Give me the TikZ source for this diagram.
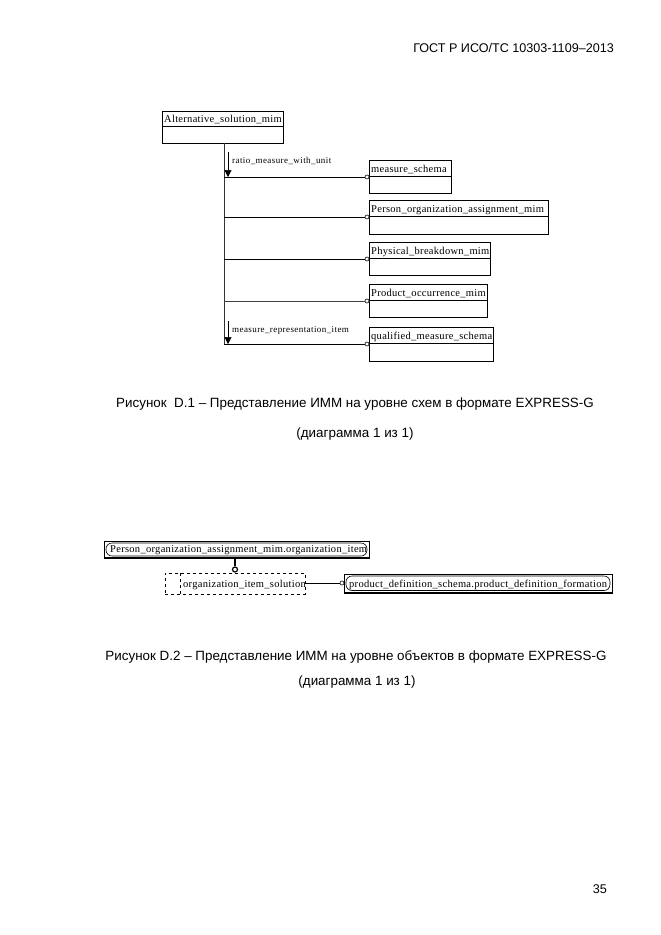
\documentclass[tikz,border=0pt]{standalone}
\usepackage{fontspec}
\setmainfont{Liberation Sans}
\newfontfamily\dgfont[LetterSpace=2.8]{Liberation Serif}
\newfontfamily\dgsmall[LetterSpace=4.6]{Liberation Serif}
\usetikzlibrary{arrows.meta,calc}
\begin{document}
\begin{tikzpicture}[x=1pt,y=-1pt,
  ent/.style={draw, line width=0.7pt, anchor=north west, minimum height=33pt, inner sep=0pt, outer sep=0pt},
  lbl/.style={font=\dgfont\fontsize{10.5}{12}\selectfont, anchor=base west, inner sep=0pt},
  rlbl/.style={font=\dgsmall\fontsize{9}{10}\selectfont, anchor=base west, inner sep=0pt},
  captxt/.style={font=\fontsize{13.4}{15}\selectfont, anchor=base, inner sep=0pt},
  hdrtxt/.style={font=\fontsize{12.6}{15}\selectfont, anchor=base east, inner sep=0pt},
  rel/.style={line width=0.9pt},
  ring/.style={circle, draw, line width=0.6pt, fill=white, minimum size=4pt, inner sep=0pt},
  dir/.style={line width=0.6pt, -{Triangle[length=7pt,width=7pt]}},
  sel/.style={draw, dashed, line width=0.7pt, anchor=north west, inner sep=0pt, outer sep=0pt, minimum height=21pt},
  tref/.style={draw, line width=0.7pt, anchor=north west, inner sep=0pt, outer sep=0pt, minimum height=17pt}
]
\useasboundingbox[fill=white] (0,0) rectangle (661,935);

% header and page number
\node[hdrtxt] (hdr) at (614,52) {ГОСТ Р ИСО/ТС 10303-1109–2013};
\node[hdrtxt] (pg) at (607,893) {35};

% ---------- Diagram D.1 ----------
\node[ent, minimum width=121pt, minimum height=32pt] (alt) at (162,111) {};
\draw[line width=0.7pt] (alt.west |- 0,126) -- (alt.east |- 0,126);
\node[lbl] (altl) at (164,122) {Alternative\_solution\_mim};

\node[ent, minimum width=82pt] (ms) at (369,160) {};
\draw[line width=0.7pt] (ms.west |- 0,176) -- (ms.east |- 0,176);
\node[lbl] (msl) at (371,172) {measure\_schema};

\node[ent, minimum width=179pt, minimum height=34pt] (poa) at (369,200) {};
\draw[line width=0.7pt] (poa.west |- 0,216) -- (poa.east |- 0,216);
\node[lbl] (poal) at (371,212) {Person\_organization\_assignment\_mim};

\node[ent, minimum width=121pt] (pb) at (369,242) {};
\draw[line width=0.7pt] (pb.west |- 0,258) -- (pb.east |- 0,258);
\node[lbl] (pbl) at (371,254) {Physical\_breakdown\_mim};

\node[ent, minimum width=118pt] (po) at (369,284) {};
\draw[line width=0.7pt] (po.west |- 0,300) -- (po.east |- 0,300);
\node[lbl] (pol) at (371,296) {Product\_occurrence\_mim};

\node[ent, minimum width=124pt, minimum height=34pt] (qms) at (369,327) {};
\draw[line width=0.7pt] (qms.west |- 0,343) -- (qms.east |- 0,343);
\node[lbl] (qmsl) at (371,339) {qualified\_measure\_schema};

% trunk
\coordinate (ttop) at (224,143);
\coordinate (tbot) at (224,345);
\draw[line width=0.7pt, black!80] (ttop) -- (tbot);

% connectors
\node[ring] (c1) at (367,177) {};
\node[ring] (c2) at (367,217) {};
\node[ring] (c3) at (367,259) {};
\node[ring] (c4) at (367,301) {};
\node[ring] (c5) at (367,344) {};
\coordinate (t1) at (224,177);
\coordinate (t2) at (224,217);
\coordinate (t3) at (224,259);
\coordinate (t4) at (224,301);
\coordinate (t5) at (224,344);
\draw[rel] (t1) -- (c1.west);
\draw[rel] (t2) -- (c2.west);
\draw[rel] (t3) -- (c3.west);
\draw[line width=0.5pt, black!75] (t4) -- (c4.west);
\draw[rel] (t5) -- (c5.west);

% direction arrows and labels
\coordinate (a1s) at (228,152);
\coordinate (a1e) at (228,177);
\draw[dir] (a1s) -- (a1e);
\node[rlbl] (r1) at (232,163) {ratio\_measure\_with\_unit};
\coordinate (a2s) at (228,321);
\coordinate (a2e) at (228,344);
\draw[dir] (a2s) -- (a2e);
\node[rlbl] (r2) at (232,332) {measure\_representation\_item};

\node[captxt] (cap1) at (355,407) {Рисунок\ \ D.1 – Представление ИММ на уровне схем в формате EXPRESS-G};
\node[captxt] (cap1b) at (355,437) {(диаграмма 1 из 1)};

% ---------- Diagram D.2 ----------
\node[tref, minimum width=265pt] (oi) at (104,541) {};
\draw[rounded corners=6pt, line width=0.6pt] (106,543) rectangle (367,556);
\draw[line width=1.4pt] (oi.south west) -- (oi.south east);
\node[lbl] (oil) at (110,552) {Person\_organization\_assignment\_mim.organization\_item};

\node[sel, minimum width=140pt] (ois) at (165,573) {};
\draw[dashed, line width=0.7pt] (180,573) -- (180,594);
\node[lbl] (oisl) at (183,587) {organization\_item\_solution};

\node[tref, minimum width=268pt, minimum height=19pt] (pdf) at (344,574) {};
\draw[rounded corners=6pt, line width=0.6pt] (346,576) rectangle (610,590.5);
\draw[line width=1.4pt] (pdf.south west) -- (pdf.south east);
\node[lbl] (pdfl) at (349,587) {product\_definition\_schema.product\_definition\_formation};

\node[ring, line width=1.2pt, minimum size=5pt] (d1) at (235,569.5) {};
\draw[line width=1.4pt] (oi.south -| 235,0) -- (d1.north);
\node[ring] (d2) at (342,583) {};
\draw[rel] (ois.east |- 0,583) -- (d2.west);

\node[captxt] (cap2) at (356,660) {Рисунок D.2 – Представление ИММ на уровне объектов в формате EXPRESS-G};
\node[captxt] (cap2b) at (357,685) {(диаграмма 1 из 1)};
\end{tikzpicture}
\end{document}
